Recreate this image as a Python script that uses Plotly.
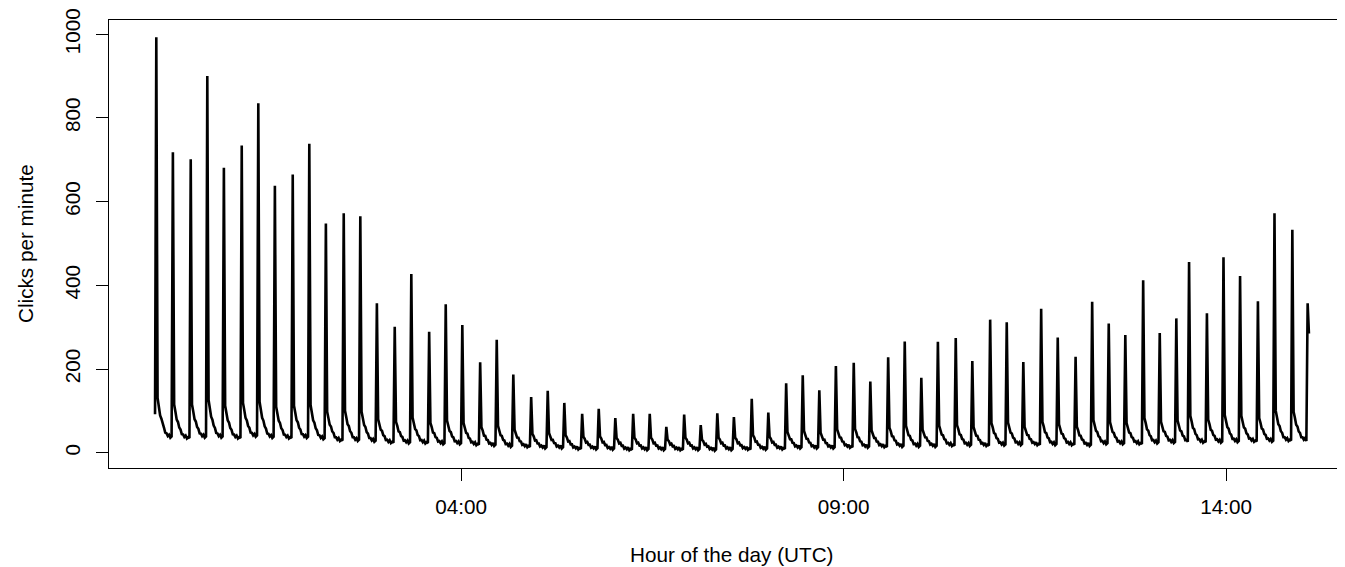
import plotly.graph_objects as go

# ---- data (minutes after 00:00 UTC, clicks per minute) ----
start_minute = 0
start_value = 92

peak_minutes = [1, 14, 28, 41, 54, 68, 81, 94, 108, 121, 134, 148, 161, 174, 188, 201,
                215, 228, 241, 255, 268, 281, 295, 308, 321, 335, 348, 361, 375, 388,
                401, 415, 428, 441, 454, 468, 481, 495, 508, 521, 534, 548, 561, 575,
                588, 601, 614, 628, 641, 655, 668, 681, 695, 708, 722, 735, 748, 761,
                775, 788, 801, 811, 825, 838, 851, 865, 878, 892, 904]

peak_values = [993, 718, 701, 900, 681, 734, 835, 638, 665, 738, 548, 572, 565, 357,
               301, 427, 289, 355, 305, 216, 270, 187, 133, 148, 119, 93, 105, 83, 93,
               93, 62, 91, 66, 94, 85, 129, 96, 166, 185, 149, 207, 215, 170, 228,
               266, 179, 265, 274, 219, 318, 312, 217, 344, 275, 229, 361, 309, 281,
               412, 286, 321, 456, 333, 467, 422, 362, 572, 533, 357]

# value one minute after each peak (end of the steep drop)
shoulder_values = [131, 115, 115, 126, 112, 119, 122, 110, 112, 114, 98, 100, 98, 80,
                   74, 84, 71, 77, 71, 61, 64, 55, 45, 47, 42, 38, 39, 35, 36, 36, 31,
                   36, 31, 36, 36, 42, 38, 50, 52, 48, 56, 57, 53, 60, 64, 55, 65, 66,
                   61, 71, 72, 62, 74, 68, 62, 78, 73, 71, 83, 74, 77, 88, 79, 90, 88,
                   83, 100, 98, 285]

# level the curve settles to between spikes
base_values = [40, 38, 40, 40, 38, 42, 39, 38, 39, 36, 32, 32, 30, 27, 26, 26, 24, 24,
               22, 20, 18, 17, 14, 14, 12, 12, 11, 10, 10, 10, 10, 10, 9, 10, 11, 11,
               12, 14, 14, 14, 16, 16, 17, 18, 18, 18, 20, 20, 20, 21, 22, 22, 22, 22,
               20, 24, 24, 24, 26, 27, 27, 28, 28, 29, 30, 30, 32, 32, 32]

# shape of the decay after the shoulder (share of shoulder-above-base left)
tail_share = [0.75, 0.56, 0.42, 0.30, 0.20, 0.12, 0.06, 0.02]

# small wiggle seen along the floor of the curve (minute offset within a cycle)
floor_wiggle = [0, 0, 2, -2, 3, -1, 2, -3, 1, -2, 3, -4, -1, -3, 0]

tick_minutes = [240, 540, 840]
tick_labels = ["04:00", "09:00", "14:00"]
y_ticks = [0, 200, 400, 600, 800, 1000]

# ---- build the per-minute series from the arrays above ----
minutes = [start_minute]
clicks = [start_value]
n = len(peak_minutes)
for i in range(n):
    p = peak_minutes[i]
    pk = peak_values[i]
    sh = shoulder_values[i]
    base = base_values[i]
    end = peak_minutes[i + 1] if i + 1 < n else p + 2
    for m in range(p, end):
        k = m - p
        if k == 0:
            v = pk
        elif k == 1:
            v = sh
        else:
            share = tail_share[k - 2] if k - 2 < len(tail_share) else 0.0
            v = base + (sh - base) * share + floor_wiggle[k % len(floor_wiggle)]
        minutes.append(m)
        clicks.append(v)

fig = go.Figure()
fig.add_trace(go.Scatter(x=minutes, y=clicks, mode="lines",
                         line=dict(color="black", width=2.6),
                         hoverinfo="skip", showlegend=False))

font_family = "Liberation Sans, Arial, Helvetica, sans-serif"
FS = 20.7

# page body has an 8px margin; the figure is sized so the plot box lands at
# x=109..(right edge), y=20..468 in the window
fig.update_layout(
    width=1337, height=559,
    margin=dict(l=101, r=0, t=12, b=99),
    paper_bgcolor="white", plot_bgcolor="white",
    font=dict(family=font_family, size=FS, color="black"),
    showlegend=False,
    xaxis=dict(range=[-36.1, 933.3], tickmode="array", tickvals=tick_minutes,
               ticktext=tick_labels, ticks="outside", ticklen=12, tickwidth=1,
               tickcolor="black", showline=True, linecolor="black", linewidth=1,
               mirror=True, showgrid=False, zeroline=False,
               ticklabelstandoff=8),
    yaxis=dict(range=[-36.5, 1034], tickmode="array", tickvals=y_ticks,
               ticks="outside", ticklen=12, tickwidth=1, tickcolor="black",
               tickangle=-90, showline=True, linecolor="black", linewidth=1,
               mirror=False, showgrid=False, zeroline=False,
               ticklabelstandoff=8),
    annotations=[
        dict(text="Hour of the day (UTC)", xref="paper", yref="paper",
             x=(732 - 109) / 1236, y=(468 - 554.5) / 448, xanchor="center",
             yanchor="middle", showarrow=False, font=dict(size=FS)),
        dict(text="Clicks per minute", xref="paper", yref="paper",
             x=(25 - 109) / 1236, y=0.5, xanchor="center", yanchor="middle",
             textangle=-90, showarrow=False, font=dict(size=FS)),
    ],
)

fig.write_html("out.html")
